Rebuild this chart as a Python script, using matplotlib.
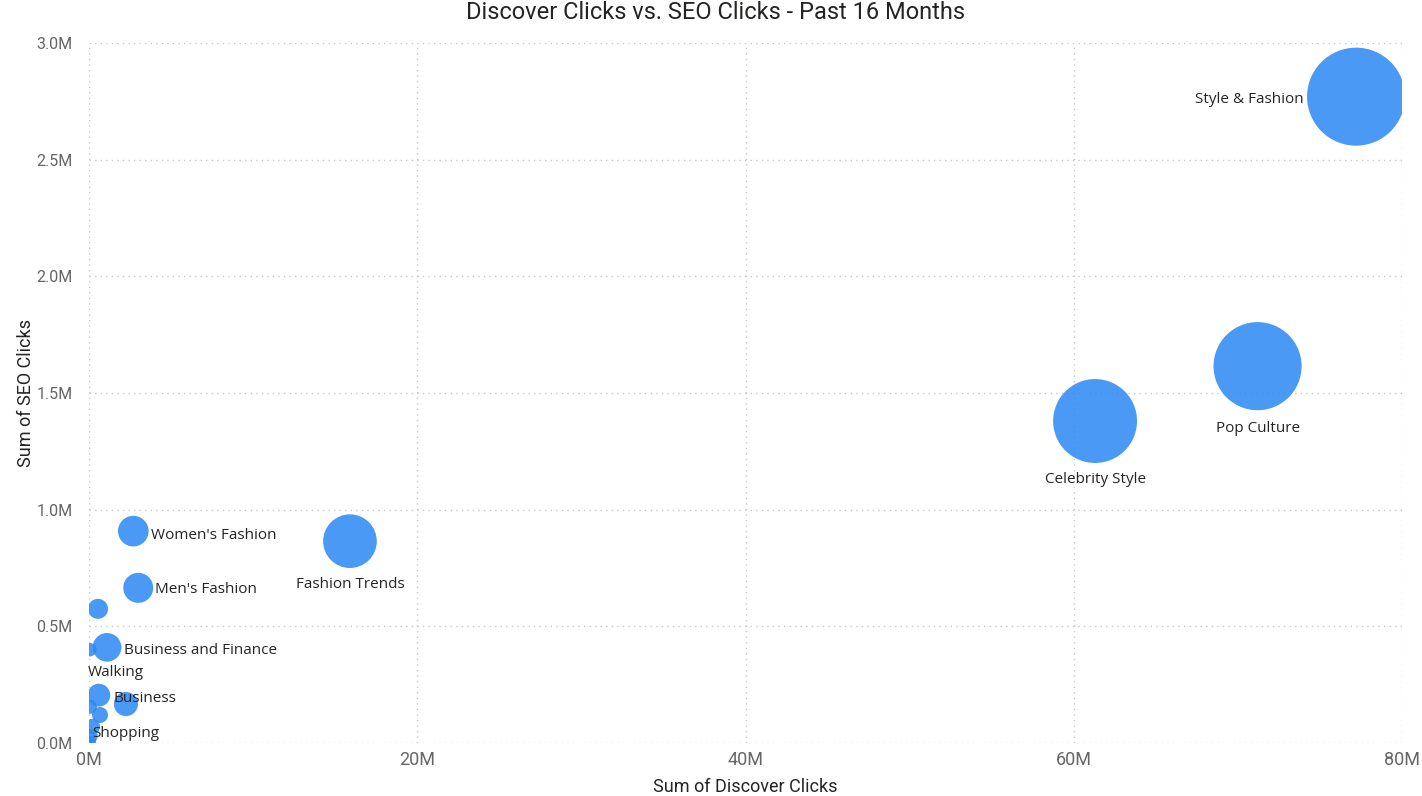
import matplotlib
matplotlib.use("Agg")
import matplotlib.pyplot as plt
from matplotlib.ticker import FuncFormatter, MultipleLocator

# bubble data: x = discover clicks, y = seo clicks, size = bubble weight
names = ["Style & Fashion", "Pop Culture", "Celebrity Style", "Fashion Trends",
         "Women's Fashion", "Men's Fashion", "", "Business and Finance",
         "Walking", "Business", "Shopping", "", "", "", "", ""]
discover = [77.2e6, 71.2e6, 61.3e6, 15.9e6,
            2.7e6, 3.0e6, 0.55e6, 1.1e6,
            0.05e6, 0.6e6, 2.25e6, 0.67e6, 0.05e6, 0.2e6, 0.1e6, 0.05e6]
seo = [2.77e6, 1.615e6, 1.38e6, 0.865e6,
       0.908e6, 0.665e6, 0.575e6, 0.41e6,
       0.40e6, 0.205e6, 0.167e6, 0.12e6, 0.155e6, 0.07e6, 0.03e6, 0.005e6]
weight = [2400, 1940, 1760, 720,
          235, 225, 100, 205,
          45, 130, 145, 64, 50, 60, 50, 40]

# label placement (offset in pixels, alignment)
label_pos = {
    "Style & Fashion": (-52, -3, "right"),
    "Pop Culture": (0, -62, "center"),
    "Celebrity Style": (0, -59, "center"),
    "Fashion Trends": (0, -43, "center"),
    "Women's Fashion": (18, -4, "left"),
    "Men's Fashion": (17, -2, "left"),
    "Business and Finance": (17, -3, "left"),
    "Walking": (-2, -23, "left"),
    "Business": (15, -3, "left"),
    "Shopping": (0, -29, "center"),
}

HEAD_FONT = ["Roboto", "DejaVu Sans"]
LABEL_FONT = ["Open Sans", "DejaVu Sans"]

fig = plt.figure(figsize=(14.22, 7.96), dpi=100)
ax = fig.add_axes([89 / 1422, 53 / 796, 1313 / 1422, 700 / 796])

px2pt = 72 / fig.dpi
sizes = [(2 * w ** 0.5 * px2pt) ** 2 for w in weight]
ax.scatter(discover, seo, s=sizes, color="#2A88F4", alpha=0.85,
           linewidths=0, zorder=3)

for n, x, y in zip(names, discover, seo):
    if n not in label_pos:
        continue
    dx, dy, ha = label_pos[n]
    ax.annotate(n, (x, y), xytext=(dx, dy), textcoords="offset pixels",
                ha=ha, va="center", fontsize=11, color="#252423",
                family=LABEL_FONT, zorder=4, annotation_clip=False)

ax.set_xlim(0, 80e6)
ax.set_ylim(0, 3.0e6)
ax.xaxis.set_major_locator(MultipleLocator(20e6))
ax.yaxis.set_major_locator(MultipleLocator(0.5e6))
ax.xaxis.set_major_formatter(FuncFormatter(lambda v, p: f"{v / 1e6:.0f}M"))
ax.yaxis.set_major_formatter(FuncFormatter(lambda v, p: f"{v / 1e6:.1f}M"))

ax.grid(True, linestyle=(0, (1, 3)), color="#c8c8c8", linewidth=1, zorder=0)
for s in ax.spines.values():
    s.set_visible(False)
ax.tick_params(length=0)
ax.tick_params(axis="y", pad=12)
ax.tick_params(axis="x", pad=6)
for t in ax.get_yticklabels():
    t.set_family(HEAD_FONT)
    t.set_fontsize(11.5)
    t.set_color("#666666")
for t in ax.get_xticklabels():
    t.set_family(HEAD_FONT)
    t.set_fontsize(13)
    t.set_color("#666666")

ax.set_xlabel("Sum of Discover Clicks", family=HEAD_FONT, fontsize=13,
              color="#252423", labelpad=6)
ax.set_ylabel("Sum of SEO Clicks", family=HEAD_FONT, fontsize=13,
              color="#252423", labelpad=1)

fig.text(0.503, 0.984, "Discover Clicks vs. SEO Clicks - Past 16 Months",
         ha="center", va="center", family=HEAD_FONT, fontsize=17,
         color="#252423")

fig.savefig("out.png", dpi=100)
